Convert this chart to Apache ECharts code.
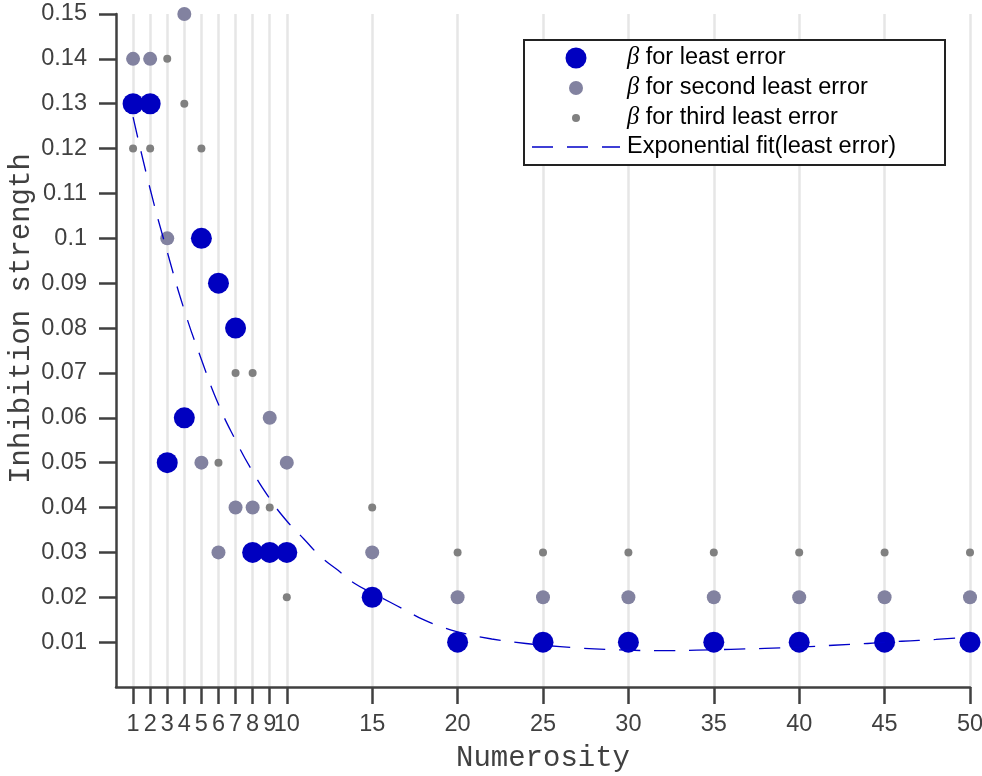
<!DOCTYPE html>
<html>
<head>
<meta charset="utf-8">
<script src="https://cdn.jsdelivr.net/npm/echarts@6/dist/echarts.min.js"></script>
<style>
  html, body { margin: 0; padding: 0; background: #fff; }
  #chart { width: 982px; height: 776px; }
</style>
</head>
<body>
<div id="chart"></div>
<script>
// numerosities and the three best beta values at each one
const numerosity = [1, 2, 3, 4, 5, 6, 7, 8, 9, 10, 15, 20, 25, 30, 35, 40, 45, 50]
const leastErr   = [0.13, 0.13, 0.05, 0.06, 0.10, 0.09, 0.08, 0.03, 0.03, 0.03, 0.02, 0.01, 0.01, 0.01, 0.01, 0.01, 0.01, 0.01]
const secondErr  = [0.14, 0.14, 0.10, 0.15, 0.05, 0.03, 0.04, 0.04, 0.06, 0.05, 0.03, 0.02, 0.02, 0.02, 0.02, 0.02, 0.02, 0.02]
const thirdErr   = [0.12, 0.12, 0.14, 0.13, 0.12, 0.05, 0.07, 0.07, 0.04, 0.02, 0.04, 0.03, 0.03, 0.03, 0.03, 0.03, 0.03, 0.03]

// exponential fit curve
const fitX = [1, 2, 3, 4, 5, 6, 7, 8, 9, 10, 11, 12, 13, 14, 15, 16, 17, 18, 19, 20, 22, 24, 26, 28, 30, 32, 34, 36, 38, 40, 42, 44, 46, 48, 50]
const fitY = [0.127, 0.111, 0.097, 0.084, 0.073, 0.063, 0.055, 0.048, 0.042, 0.037, 0.033, 0.029, 0.026, 0.023, 0.021, 0.019, 0.017, 0.015, 0.0135, 0.0123,
              0.0107, 0.0097, 0.009, 0.0085, 0.0082, 0.0081, 0.0082, 0.0084, 0.0086, 0.0089, 0.0093, 0.0097, 0.0102, 0.0106, 0.0111]

const xTicks = [1, 2, 3, 4, 5, 6, 7, 8, 9, 10, 15, 20, 25, 30, 35, 40, 45, 50]
const yTicks = [0.01, 0.02, 0.03, 0.04, 0.05, 0.06, 0.07, 0.08, 0.09, 0.1, 0.11, 0.12, 0.13, 0.14, 0.15]

const names = ['β for least error', 'β for second least error', 'β for third least error', 'Exponential fit(least error)']

const pairs = (xs, ys) => xs.map((x, i) => [x, ys[i]])

const axisColor = '#404040'
const labelFont = 'Liberation Sans, Arial, sans-serif'
const monoFont  = 'Liberation Mono, Courier New, monospace'
const fitDash   = [21, 14]
const colors    = ['#0000c0', '#8282a0', '#808080', '#0000c8']
const sizes     = [21, 14, 8]

const chart = echarts.init(document.getElementById('chart'))

// legend drawn by hand: box, marker column, text column
const rowY = [58, 88, 118, 147]
const legendItems = [{
  type: 'rect', left: 523, top: 39, z: 3,
  shape: { width: 421, height: 125 },
  style: { fill: '#fff', stroke: '#222', lineWidth: 2 },
}]
names.forEach((name, i) => {
  if (i < 3) {
    legendItems.push({
      type: 'circle', z: 4,
      shape: { cx: 576, cy: rowY[i], r: sizes[i] / 2 },
      style: { fill: colors[i] },
    })
  } else {
    legendItems.push({
      type: 'line', z: 4,
      shape: { x1: 532, y1: rowY[i], x2: 620, y2: rowY[i] },
      style: { stroke: colors[i], lineWidth: 1.3, lineDash: fitDash },
    })
  }
  legendItems.push({
    type: 'text', z: 4, x: 627, y: rowY[i],
    style: {
      text: name.replace('β', '{b|β}'),
      fontSize: 23.5, fontFamily: labelFont, fill: '#000', verticalAlign: 'middle',
      rich: { b: { fontSize: 24.5, fontStyle: 'italic', fontFamily: 'Liberation Serif, serif', fill: '#000' } },
    },
  })
})

chart.setOption({
  animation: false,
  backgroundColor: '#fff',
  grid: { left: 116, right: 12, top: 14, bottom: 89, outerBoundsMode: 'none', containLabel: false },
  graphic: legendItems,
  xAxis: {
    type: 'value', min: 0, max: 50,
    name: 'Numerosity', nameLocation: 'middle', nameGap: 57,
    nameTextStyle: { fontFamily: monoFont, fontSize: 29, color: axisColor },
    axisLine: { lineStyle: { color: axisColor, width: 2.5 } },
    axisTick: { customValues: xTicks, length: 17, lineStyle: { color: axisColor, width: 2.5 } },
    axisLabel: { customValues: xTicks, margin: 26, fontSize: 23.5, fontFamily: labelFont, color: axisColor },
    splitLine: { show: true, lineStyle: { color: '#e6e6e6', width: 2.5 } },
  },
  yAxis: {
    type: 'value', min: 0, max: 0.15,
    name: 'Inhibition strength', nameLocation: 'middle', nameGap: 80, nameMoveOverlap: false,
    nameTextStyle: { fontFamily: monoFont, fontSize: 29, color: axisColor, padding: [0, 0, 0, 64] },
    axisLine: { show: true, lineStyle: { color: axisColor, width: 2.5 } },
    axisTick: { show: true, customValues: yTicks, length: 17, lineStyle: { color: axisColor, width: 2.5 } },
    axisLabel: { customValues: yTicks, margin: 29, fontSize: 23.5, fontFamily: labelFont, color: axisColor },
    splitLine: { show: false },
  },
  series: [
    {
      name: names[0], type: 'scatter', clip: false,
      data: pairs(numerosity, leastErr),
      symbolSize: sizes[0],
      itemStyle: { color: colors[0], opacity: 1 },
    },
    {
      name: names[1], type: 'scatter', clip: false,
      data: pairs(numerosity, secondErr),
      symbolSize: sizes[1],
      itemStyle: { color: colors[1], opacity: 1 },
    },
    {
      name: names[2], type: 'scatter', clip: false,
      data: pairs(numerosity, thirdErr),
      symbolSize: sizes[2],
      itemStyle: { color: colors[2], opacity: 1 },
    },
    {
      name: names[3], type: 'line',
      data: pairs(fitX, fitY),
      symbol: 'none', smooth: true,
      lineStyle: { color: colors[3], width: 1.3, type: fitDash },
      itemStyle: { color: colors[3] },
    },
  ],
})
</script>
</body>
</html>
